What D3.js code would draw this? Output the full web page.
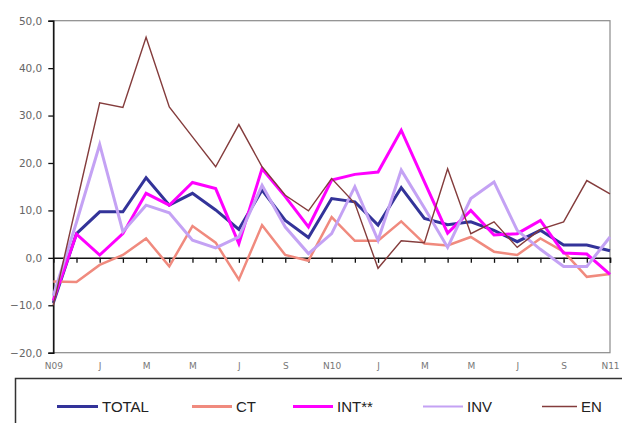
<!DOCTYPE html>
<html><head><meta charset="utf-8">
<script src="https://cdn.jsdelivr.net/npm/d3@7"></script>
<style>
html,body{margin:0;padding:0;background:#fff;}
svg{display:block;}
</style></head>
<body>
<svg id="chart" width="622" height="423"></svg>
<script>
const categories = ["N09","D09","J10","F10","M10","A10","M10b","J10b","J10c","A10b","S10","O10","N10","D10","J11","F11","M11","A11","M11b","J11b","J11c","A11b","S11","O11","N11"];
const tickLabels = ["N09","","J","","M","","M","","J","","S","","N10","","J","","M","","M","","J","","S","","N11"];
const yTicks = [-20,-10,0,10,20,30,40,50];
const seriesNames = ["TOTAL","CT","INT**","INV","EN"];
const totalValues = [-9.5,5.1,9.7,9.7,16.9,11.1,13.6,10.1,6.0,14.3,7.9,4.3,12.5,11.8,6.9,14.8,8.3,7.0,7.6,5.8,3.4,5.8,2.7,2.7,1.5];
const ctValues = [-5,-5.1,-1.5,0.6,4.1,-1.8,6.7,3.2,-4.6,6.9,0.6,-0.6,8.6,3.6,3.6,7.7,3.0,2.6,4.4,1.3,0.6,4.1,1.3,-4.0,-3.4];
const intValues = [-9,5.0,0.6,5.1,13.6,11.1,15.9,14.6,3.0,18.8,12.9,6.5,16.4,17.6,18.1,26.9,16.0,5.2,10.0,4.8,5.1,7.9,1.0,0.8,-3.5];
const invValues = [-8,7.5,23.9,5.5,11.1,9.5,3.7,2.1,4.4,15.3,6.5,0.9,5.1,15.0,3.7,18.5,10.5,2.2,12.5,16.0,5.8,1.8,-1.8,-1.8,4.4];
const enValues = [-10,11.4,32.7,31.7,46.5,31.8,25.5,19.2,28.1,19.2,13.2,9.9,16.7,11.5,-2.2,3.6,3.2,18.8,5.1,7.6,2.2,6.0,7.6,16.3,13.5];

const series = [
  {name: seriesNames[0], values: totalValues, color: "#333399", width: 3},
  {name: seriesNames[1], values: ctValues, color: "#f08a7e", width: 2.5},
  {name: seriesNames[2], values: intValues, color: "#ff00ff", width: 3},
  {name: seriesNames[3], values: invValues, color: "#c4a2f4", width: 3},
  {name: seriesNames[4], values: enValues, color: "#843c3c", width: 1.4}
];

const svg = d3.select("#chart");
const pLeft = 53.3, pRight = 610, pTop = 20.7, pBottom = 352.7;
const x = d3.scalePoint().domain(categories).range([pLeft, pRight]);
const y = d3.scaleLinear().domain([-20, 50]).range([pBottom, pTop]);

svg.append("rect").attr("x", pLeft).attr("y", pTop).attr("width", pRight-pLeft).attr("height", pBottom-pTop)
  .attr("fill", "none").attr("stroke", "#8a8a8a").attr("stroke-width", 1.2);

const yAxis = d3.axisLeft(y).tickValues(yTicks).tickSize(5).tickPadding(6)
  .tickFormat(d => d3.format(".1f")(d).replace(".", ","));
const gy = svg.append("g").attr("transform", `translate(${pLeft},0)`).call(yAxis);
gy.select(".domain").attr("stroke", "#111").attr("stroke-width", 1.5);
gy.selectAll(".tick line").attr("stroke", "#111").attr("stroke-width", 1.3);
gy.selectAll("text").attr("fill", "#666").style("font-family", "DejaVu Sans, Verdana, sans-serif").style("font-size", "10.5px");

const xAxis = d3.axisBottom(x).tickSize(5).tickFormat(() => "");
const gx = svg.append("g").attr("transform", `translate(0,${y(0)})`).call(xAxis);
gx.select(".domain").attr("stroke", "#111").attr("stroke-width", 1.5);
gx.selectAll(".tick line").attr("stroke", "#111").attr("stroke-width", 1.3);
gx.selectAll(".tick").filter((d,i) => i === 0).select("line").remove();

const xLab = d3.axisBottom(x).tickSize(0).tickPadding(0).tickFormat((d,i) => tickLabels[i]);
const gxl = svg.append("g").attr("transform", `translate(0,${pBottom+10})`).call(xLab);
gxl.select(".domain").remove();
gxl.selectAll("text").attr("fill", "#777").style("font-family", "DejaVu Sans, Verdana, sans-serif").style("font-size", "9px");

const line = d3.line().x((d,i) => x(categories[i])).y(d => y(d));
series.forEach(s => {
  svg.append("path").datum(s.values).attr("d", line)
    .attr("fill", "none").attr("stroke", s.color).attr("stroke-width", s.width)
    .attr("stroke-linejoin", "miter");
});

svg.append("rect").attr("x", 15.5).attr("y", 378.5).attr("width", 640).attr("height", 80)
  .attr("fill", "#fff").attr("stroke", "#333").attr("stroke-width", 1.5);
const legendX = [57, 192, 293, 423, 542];
const legendLen = [41, 40, 40, 40, 35];
const ly = 406.5;
series.forEach((s, i) => {
  svg.append("line").attr("x1", legendX[i]).attr("x2", legendX[i] + legendLen[i])
    .attr("y1", ly).attr("y2", ly).attr("stroke", s.color)
    .attr("stroke-width", i === 4 ? 1.6 : (i === 3 ? 2 : 2.8));
  svg.append("text").attr("x", legendX[i] + legendLen[i] + 4).attr("y", ly + 5.5)
    .text(s.name).attr("fill", "#222")
    .style("font-family", "Liberation Sans, Arial, sans-serif").style("font-size", "15px");
});
</script>
</body></html>
